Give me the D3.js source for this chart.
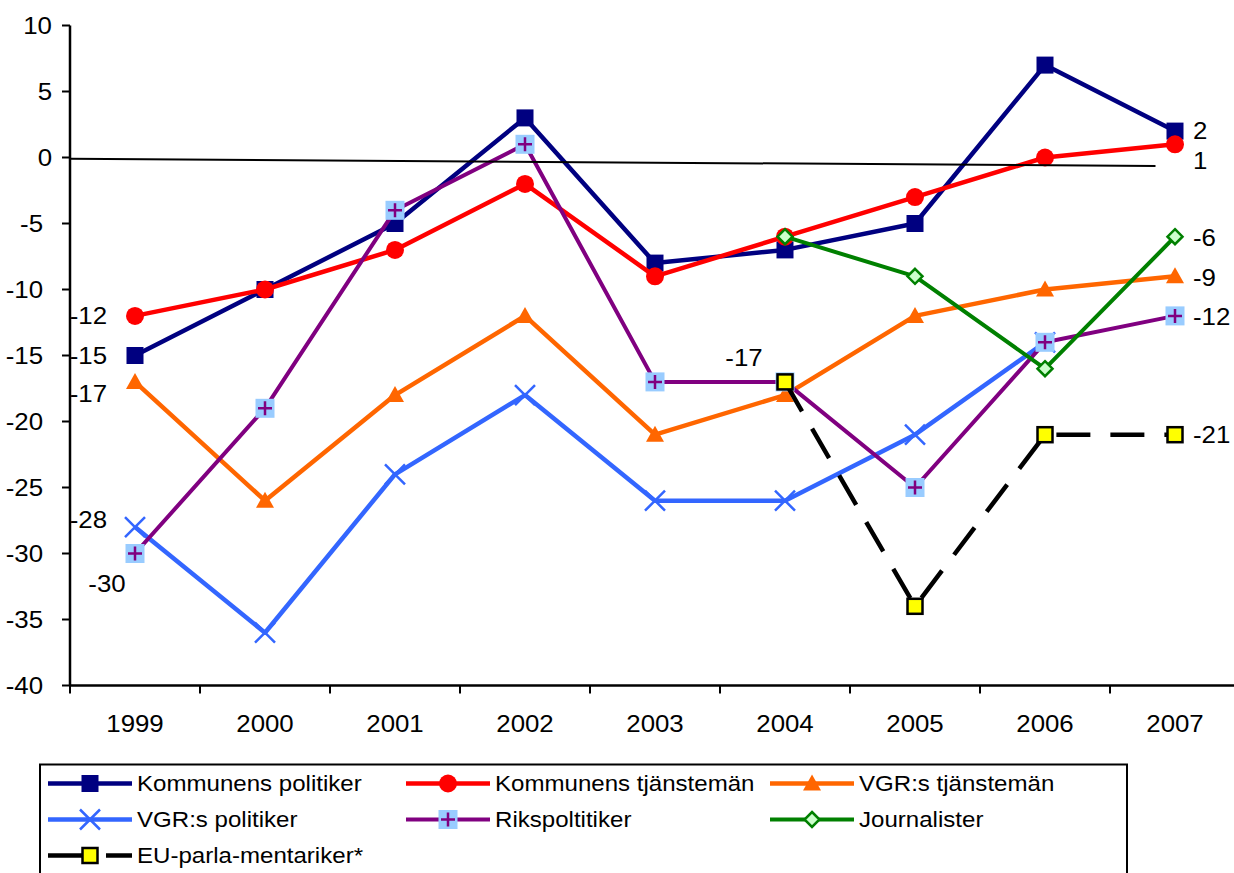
<!DOCTYPE html>
<html>
<head>
<meta charset="utf-8">
<script src="https://cdn.jsdelivr.net/npm/d3@7"></script>
<style>
  html, body { margin: 0; padding: 0; background: #ffffff; }
  svg { display: block; font-family: "Liberation Sans", Arial, sans-serif; }
</style>
</head>
<body>
<svg id="chart" width="1234" height="873"></svg>
<script>
// ---------------- DATA ----------------
const years = ["1999", "2000", "2001", "2002", "2003", "2004", "2005", "2006", "2007"];
const yTicks = [10, 5, 0, -5, -10, -15, -20, -25, -30, -35, -40];

const kommunensPolitiker  = [-15, -10, -5, 3, -8, -7, -5, 7, 2];
const kommunensTjanstemen = [-12, -10, -7, -2, -9, -6, -3, 0, 1];
const vgrTjanstemen       = [-17, -26, -18, -12, -21, -18, -12, -10, -9];
const vgrPolitiker        = [-28, -36, -24, -18, -26, -26, -21, -14, null];
const rikspolitiker       = [-30, -19, -4, 1, -17, -17, -25, -14, -12];
const journalister        = [null, null, null, null, null, -6, -9, -16, -6];
const euParlamentariker   = [null, null, null, null, null, -17, -34, -21, -21];

const seriesNames = [
  "Kommunens politiker", "Kommunens tjänstemän", "VGR:s tjänstemän",
  "VGR:s politiker", "Rikspoltitiker", "Journalister", "EU-parla-mentariker*"
];
const seriesValues = [
  kommunensPolitiker, kommunensTjanstemen, vgrTjanstemen,
  vgrPolitiker, rikspolitiker, journalister, euParlamentariker
];

// thin reference line (category index, value)
const refLineIndex = [-0.5, 7.85];
const refLineValue = [-0.1, -0.64];

// data labels: [series index, category index]
const dataLabels = [
  [1, 0], [0, 0], [2, 0], [3, 0], [4, 0],
  [6, 5],
  [0, 8], [1, 8], [5, 8], [2, 8], [4, 8], [6, 8]
];

// ---------------- STYLE ----------------
const styles = [
  { color: "#000080", width: 4.5, marker: "square" },
  { color: "#FF0000", width: 4.5, marker: "circle" },
  { color: "#FF6600", width: 4.5, marker: "triangle" },
  { color: "#3366FF", width: 4.5, marker: "x" },
  { color: "#800080", width: 4,   marker: "plus" },
  { color: "#008000", width: 4,   marker: "diamond" },
  { color: "#000000", width: 4.5, marker: "yellowsquare", dash: "34,20" }
];
// label placement offsets (dx, dy, anchor) in same order as dataLabels
const labelPlacement = [
  [-28, 0, "end"], [-28, 0, "end"], [-28, 12, "end"], [-28, -7, "end"], [-28, 30, "middle"],
  [-41, -24, "middle"],
  [18, 0, "start"], [18, 16, "start"], [18, 1, "start"], [18, 1, "start"], [18, 1, "start"], [18, 0, "start"]
];

const SX = 1.1;          // horizontal text stretch
const FS = 23.5;         // axis/data label font size
const LFS = 21.5;        // legend font size
const LSX = 1.12;

const svg = d3.select("#chart");
const plotLeft = 70, plotRight = 1240, plotTop = 25.5, plotBottom = 685.5;

const x = d3.scaleBand().domain(years).range([plotLeft, plotRight]).padding(0);
const xi = d3.scaleLinear().domain([-0.5, years.length - 0.5]).range([plotLeft, plotRight]);
const y = d3.scaleLinear().domain([-40, 10]).range([plotBottom, plotTop]);

function text(g, px, py, str, size, sx, anchor) {
  return g.append("text")
    .attr("transform", `translate(${px},${py}) scale(${sx},1)`)
    .attr("text-anchor", anchor || "start")
    .attr("dy", "0.35em")
    .attr("font-size", size)
    .attr("fill", "#000")
    .text(str);
}

// ---------------- AXES ----------------
const axisG = svg.append("g");
// y axis line
axisG.append("line").attr("x1", plotLeft).attr("x2", plotLeft)
  .attr("y1", y(10)).attr("y2", y(-40)).attr("stroke", "#000").attr("stroke-width", 2.5);
yTicks.forEach(t => {
  axisG.append("line").attr("x1", plotLeft - 8).attr("x2", plotLeft)
    .attr("y1", y(t)).attr("y2", y(t)).attr("stroke", "#000").attr("stroke-width", 2);
  text(axisG, t < 0 ? 43 : 52, y(t), String(t), FS, SX, "end");
});
// x axis line
axisG.append("line").attr("x1", plotLeft).attr("x2", plotRight)
  .attr("y1", y(-40)).attr("y2", y(-40)).attr("stroke", "#000").attr("stroke-width", 2.5);
years.forEach((yr, i) => {
  const bx = x(yr);
  axisG.append("line").attr("x1", bx).attr("x2", bx)
    .attr("y1", y(-40)).attr("y2", y(-40) + 8).attr("stroke", "#000").attr("stroke-width", 2);
  text(axisG, bx + x.bandwidth() / 2, 723.5, yr, FS, SX, "middle");
});

// ---------------- MARKERS ----------------
function drawMarker(g, type, cx, cy, color) {
  const m = g.append("g").attr("transform", `translate(${cx},${cy})`);
  switch (type) {
    case "square":
      m.append("rect").attr("x", -8.5).attr("y", -8.5).attr("width", 17).attr("height", 17).attr("fill", color);
      break;
    case "circle":
      m.append("circle").attr("r", 9).attr("fill", color);
      break;
    case "triangle":
      m.append("path").attr("d", "M0,-9 L9,7 L-9,7 Z").attr("fill", color);
      break;
    case "x":
      m.append("path").attr("d", "M-10,-10 L10,10 M-10,10 L10,-10")
        .attr("stroke", color).attr("stroke-width", 2.5).attr("fill", "none");
      break;
    case "plus":
      m.append("rect").attr("x", -9.5).attr("y", -9.5).attr("width", 19).attr("height", 19).attr("fill", "#99CCFF");
      m.append("path").attr("d", "M-7,0 L7,0 M0,-7 L0,7")
        .attr("stroke", color).attr("stroke-width", 2.5).attr("fill", "none");
      break;
    case "diamond":
      m.append("path").attr("d", "M0,-7.5 L7.5,0 L0,7.5 L-7.5,0 Z")
        .attr("fill", "#CCFFCC").attr("stroke", color).attr("stroke-width", 2.5);
      break;
    case "yellowsquare":
      m.append("rect").attr("x", -7.5).attr("y", -7.5).attr("width", 15).attr("height", 15)
        .attr("fill", "#FFFF00").attr("stroke", "#000").attr("stroke-width", 2.5);
      break;
  }
}

// ---------------- SERIES ----------------
const line = d3.line()
  .defined(d => d.v !== null)
  .x(d => x(d.yr) + x.bandwidth() / 2)
  .y(d => y(d.v));

const seriesG = svg.append("g");
seriesValues.forEach((vals, si) => {
  const st = styles[si];
  const pts = vals.map((v, i) => ({ yr: years[i], v }));
  const g = seriesG.append("g");
  g.append("path").datum(pts).attr("d", line)
    .attr("fill", "none").attr("stroke", st.color).attr("stroke-width", st.width)
    .attr("stroke-dasharray", st.dash || null).attr("stroke-linejoin", "round");
  pts.filter(d => d.v !== null).forEach(d => {
    drawMarker(g, st.marker, x(d.yr) + x.bandwidth() / 2, y(d.v), st.color);
  });
});

// thin reference line
svg.append("line")
  .attr("x1", xi(refLineIndex[0])).attr("y1", y(refLineValue[0]))
  .attr("x2", xi(refLineIndex[1])).attr("y2", y(refLineValue[1]))
  .attr("stroke", "#000").attr("stroke-width", 2);

// ---------------- DATA LABELS ----------------
const labelG = svg.append("g");
dataLabels.forEach(([si, ci], k) => {
  const v = seriesValues[si][ci];
  const [dx, dy, anchor] = labelPlacement[k];
  text(labelG, x(years[ci]) + x.bandwidth() / 2 + dx, y(v) + dy, String(v), FS, SX, anchor);
});

// ---------------- LEGEND ----------------
const legG = svg.append("g");
legG.append("rect").attr("x", 40).attr("y", 764.5).attr("width", 1087).attr("height", 140)
  .attr("fill", "#fff").attr("stroke", "#000").attr("stroke-width", 2);
const legCols = [48, 406, 770];
const legRows = [783.5, 819.5, 855.5];
seriesNames.forEach((name, i) => {
  const st = styles[i];
  const col = i % 3, row = Math.floor(i / 3);
  const lx = legCols[col], ly = legRows[row];
  const lw = 84;
  legG.append("line").attr("x1", lx).attr("x2", lx + lw).attr("y1", ly).attr("y2", ly)
    .attr("stroke", st.color).attr("stroke-width", st.width)
    .attr("stroke-dasharray", st.dash ? "38,20" : null);
  drawMarker(legG, st.marker, lx + 42, ly, st.color);
  text(legG, lx + lw + 5, ly, name, LFS, LSX, "start");
});
</script>
</body>
</html>
